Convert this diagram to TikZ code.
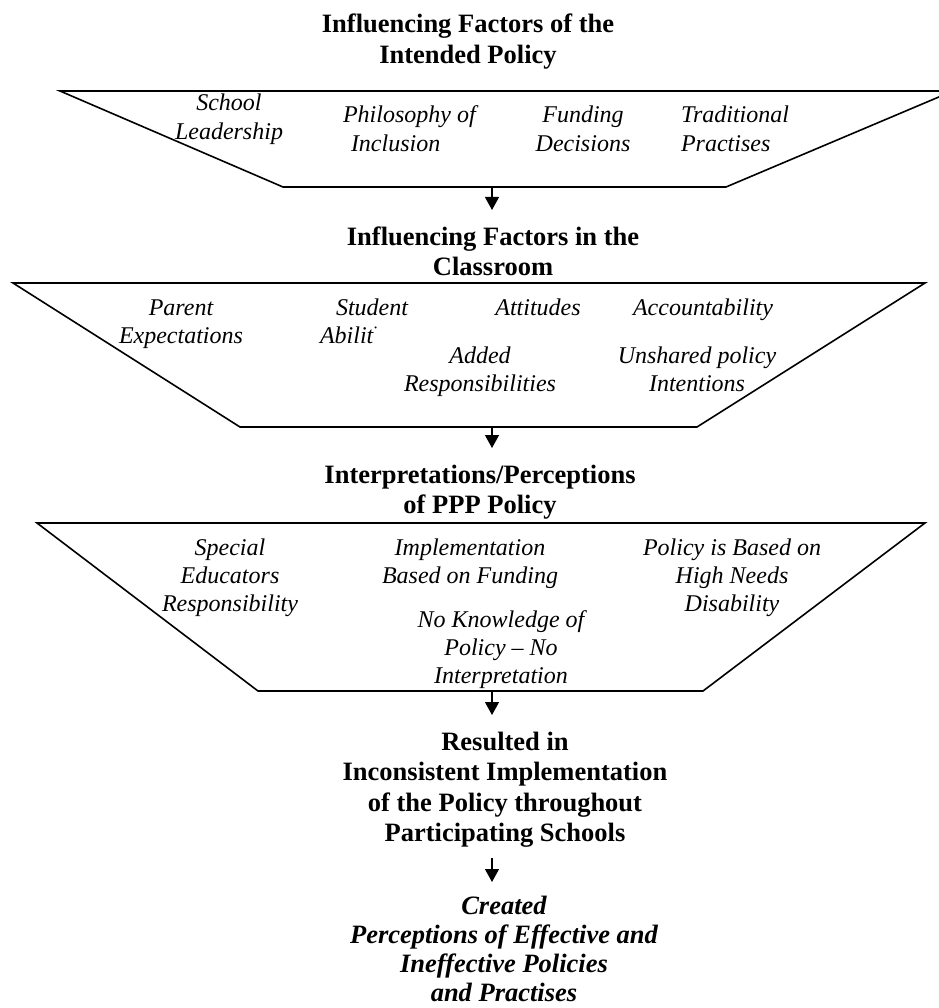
\documentclass[tikz,border=0pt]{standalone}
\usepackage{fontspec}
\setmainfont{Liberation Serif}
\usetikzlibrary{arrows.meta}
\newcommand\hstr{\rule{0pt}{22pt}}
\newcommand\lstr{\rule{0pt}{20pt}}
\tikzset{
  trap/.style={line width=1.6pt, line join=miter},
  head/.style={font=\fontsize{26.5}{30.5}\selectfont\bfseries, align=center, inner sep=0pt, outer sep=0pt, anchor=north, yshift=22pt},
  headit/.style={head, font=\fontsize{26.5}{29.3}\selectfont\bfseries\itshape},
  lbl/.style={font=\fontsize{24}{28.3}\selectfont\itshape, align=center, inner sep=0pt, outer sep=0pt, anchor=north, yshift=20pt},
  lbll/.style={lbl, align=left, anchor=north west},
  flow/.style={line width=1.3pt, -{Triangle[width=14pt,length=13pt]}}
}
\begin{document}
\begin{tikzpicture}[x=1pt,y=-1pt]
\useasboundingbox (0,0) rectangle (938,1008);
% heading 1
\node[head] (h1) at (468,33) {\hstr Influencing Factors of the\\Intended Policy};
% trapezoid 1
\draw[trap] (60,91) -- (953,91) -- (726,187) -- (283,187) -- cycle;
\coordinate (b1) at (492,187);
\node[lbl] (s1) at (229,111) {\lstr School\\Leadership};
\node[lbll] (s2) at (343,123) {\lstr Philosophy of\\\hspace*{8pt}Inclusion};
\node[lbl] (s3) at (583,123) {\lstr Funding\\Decisions};
\node[lbll] (s4) at (681,123) {\lstr Traditional\\Practises};
% heading 2
\node[head] (h2) at (493,245) {\hstr Influencing Factors in the\\Classroom};
\draw[flow, shorten >=13pt] (b1) -- (h2.north -| b1);
% trapezoid 2
\draw[trap] (13,283) -- (925,283) -- (697,427) -- (240,427) -- cycle;
\coordinate (b2) at (492,427);
\node[lbl] (c1) at (181,315) {\lstr Parent\\Expectations};
\node[lbl] (c2) at (372,315) {\lstr Student};
\node[lbll] (c3) at (320,343) {\lstr Abilit\textsuperscript{\textperiodcentered}};
\node[lbl] (c4) at (538,315) {\lstr Attitudes};
\node[lbl] (c5) at (703,315) {\lstr Accountability};
\node[lbl] (c6) at (480,363) {\lstr Added\\Responsibilities};
\node[lbl] (c7) at (697,363) {\lstr Unshared policy\\Intentions};
% heading 3
\node[head] (h3) at (480,483) {\hstr Interpretations/Perceptions\\of PPP Policy};
\draw[flow, shorten >=13pt] (b2) -- (h3.north -| b2);
% trapezoid 3
\draw[trap] (37,523) -- (925,523) -- (703,691) -- (258,691) -- cycle;
\coordinate (b3) at (492,691);
\node[lbl] (p1) at (230,555) {\lstr Special\\Educators\\Responsibility};
\node[lbl] (p2) at (470,555) {\lstr Implementation\\Based on Funding};
\node[lbl] (p3) at (732,555) {\lstr Policy is Based on\\High Needs\\Disability};
\node[lbl] (p4) at (501,627) {\lstr No Knowledge of\\Policy \textendash{} No\\Interpretation};
% heading 4
\node[head] (h4) at (505,750) {\hstr Resulted in\\Inconsistent Implementation\\of the Policy throughout\\Participating Schools};
\draw[flow, shorten >=13pt] (b3) -- (h4.north -| b3);
% heading 5
\node[headit] (h5) at (504,914) {\hstr Created\\Perceptions of Effective and\\Ineffective Policies\\and Practises};
\draw[flow, shorten <=11pt, shorten >=10pt] (h4.south -| b3) -- (h5.north -| b3);
\end{tikzpicture}
\end{document}
